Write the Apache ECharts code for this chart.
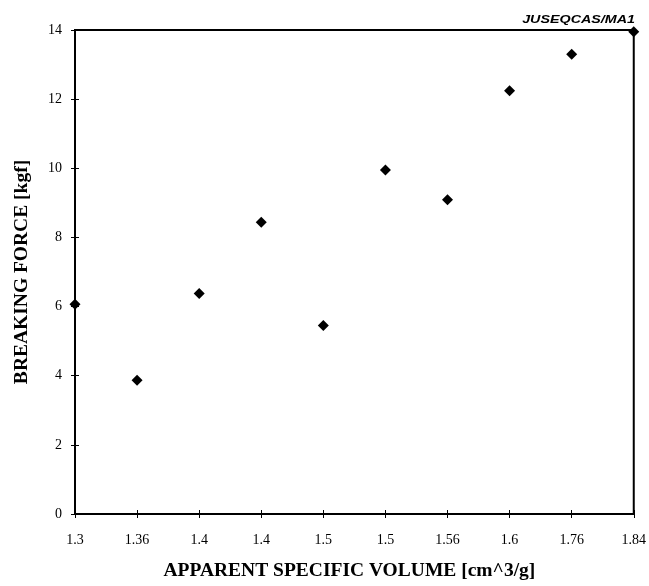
<!DOCTYPE html>
<html>
<head>
<meta charset="utf-8">
<script src="https://cdn.jsdelivr.net/npm/echarts@6/dist/echarts.min.js"></script>
<style>html,body{margin:0;padding:0;background:#fff;}#c{width:649px;height:586px;}</style>
</head>
<body>
<div id="c"></div>
<script>
const categories = ['1.3','1.36','1.4','1.4','1.5','1.5','1.56','1.6','1.76','1.84'];
const breakingForce = [6.07, 3.87, 6.38, 8.44, 5.45, 9.95, 9.09, 12.24, 13.3, 13.95];
const yTicks = [0, 2, 4, 6, 8, 10, 12, 14];
const xTitle = 'APPARENT SPECIFIC VOLUME [cm^3/g]';
const yTitle = 'BREAKING FORCE [kgf]';
const cornerNote = 'JUSEQCAS/MA1';

const serif = '"Liberation Serif", "Times New Roman", serif';
const chart = echarts.init(document.getElementById('c'));
const axisLine = {show: true, lineStyle: {color: '#000', width: 2}};
chart.setOption({
  animation: false,
  backgroundColor: '#fff',
  grid: {left: 75, right: 15, top: 30, bottom: 71, show: true, borderColor: '#000', borderWidth: 2, backgroundColor: 'transparent'},
  graphic: [{
    type: 'text', right: 14, top: 14,
    style: {text: cornerNote, font: 'italic bold 11px "Liberation Sans", Arial, sans-serif', fill: '#000'},
    scaleX: 1.3, originX: 0
  }],
  xAxis: [{
    type: 'category', data: categories, boundaryGap: false, position: 'bottom',
    axisLine: axisLine,
    axisTick: {show: true, inside: false, length: 4, lineStyle: {color: '#000'}},
    axisLabel: {color: '#000', fontFamily: serif, fontSize: 14, margin: 19, interval: 0},
    splitLine: {show: false},
    name: xTitle, nameLocation: 'middle', nameGap: 47,
    nameTextStyle: {color: '#000', fontFamily: serif, fontSize: 19.5, fontWeight: 'bold', padding: [0, 10, 0, 0]}
  }, {
    type: 'category', data: categories, boundaryGap: false, position: 'bottom',
    axisLine: {show: false},
    axisTick: {show: true, inside: true, length: 4, lineStyle: {color: '#000'}},
    axisLabel: {show: false}, splitLine: {show: false}
  }],
  yAxis: [{
    type: 'value', min: yTicks[0], max: yTicks[yTicks.length - 1], interval: 2,
    axisLine: axisLine,
    axisTick: {show: true, inside: false, length: 4, lineStyle: {color: '#000'}},
    axisLabel: {color: '#000', fontFamily: serif, fontSize: 14, margin: 13},
    splitLine: {show: false},
    name: yTitle, nameLocation: 'middle', nameGap: 43, nameRotate: 90,
    nameTextStyle: {color: '#000', fontFamily: serif, fontSize: 19.5, fontWeight: 'bold'}
  }, {
    type: 'value', min: yTicks[0], max: yTicks[yTicks.length - 1], interval: 2, position: 'left',
    axisLine: {show: false},
    axisTick: {show: true, inside: true, length: 4, lineStyle: {color: '#000'}},
    axisLabel: {show: false}, splitLine: {show: false}
  }],
  series: [{
    type: 'scatter', xAxisIndex: 0, yAxisIndex: 0,
    data: breakingForce,
    symbol: 'diamond', symbolSize: 11,
    itemStyle: {color: '#000', opacity: 1},
    clip: false
  }]
});
</script>
</body>
</html>
